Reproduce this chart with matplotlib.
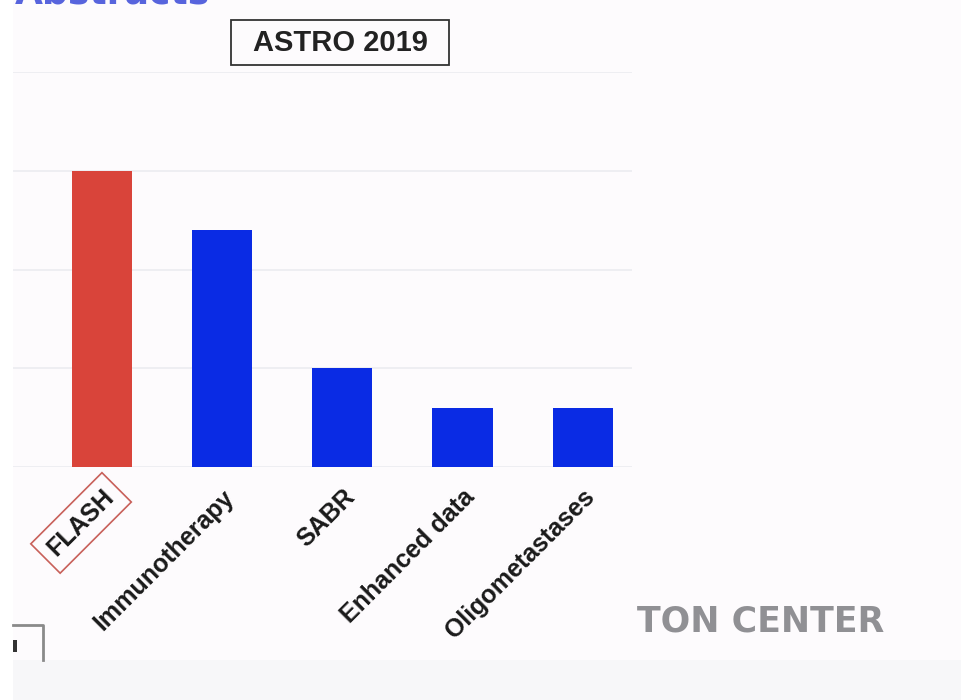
import matplotlib
matplotlib.use("Agg")
import matplotlib.pyplot as plt
from matplotlib.patches import Rectangle
from matplotlib.lines import Line2D

# ---- data ----
categories = ["FLASH", "Immunotherapy", "SABR", "Enhanced data", "Oligometastases"]
values = [15, 12, 5, 3, 3]
bar_colors = ["#d9443a", "#0a2be4", "#0a2be4", "#0a2be4", "#0a2be4"]
y_ticks = [0, 5, 10, 15, 20]
title_text = "ASTRO 2019"
footer_text = "TON CENTER"

W, H = 961, 700
fig = plt.figure(figsize=(W / 100, H / 100), dpi=100)
fig.patch.set_facecolor("#fdfbfd")

def fx(px):
    return px / W

def fy(py):
    return 1 - py / H

# background bands
fig.add_artist(Rectangle((0, 0), fx(13), 1, transform=fig.transFigure,
                         facecolor="white", edgecolor="none", zorder=0))
fig.add_artist(Rectangle((fx(13), 0), 1, fy(660), transform=fig.transFigure,
                         facecolor="#f7f7f9", edgecolor="none", zorder=0))

# axes
ax = fig.add_axes([fx(13), fy(467), fx(632) - fx(13), fy(72) - fy(467)])
ax.set_facecolor("none")
x = list(range(len(categories)))
ax.bar(x, values, width=0.5, color=bar_colors, zorder=3)
ax.set_ylim(0, 20)
ax.set_xlim(-0.74, 4.41)
ax.set_yticks(y_ticks)
ax.set_yticklabels([])
ax.tick_params(axis="y", length=0)
ax.grid(axis="y", color="#ececf0", linewidth=1.2, zorder=0)
for s in ax.spines.values():
    s.set_visible(False)

ax.set_xticks(x)
ax.set_xticklabels(categories, rotation=45, ha="right", rotation_mode="anchor",
                   fontsize=18, fontweight="bold", family="Liberation Sans",
                   color="#1a1a1a")
ax.tick_params(axis="x", length=0, pad=13)
flash_lbl = ax.get_xticklabels()[0]
flash_lbl.set_bbox(dict(boxstyle="square,pad=0.35", facecolor="none",
                        edgecolor="#c8605a", linewidth=1.2))

# title box
fig.text(fx(340), fy(43), title_text, ha="center", va="center",
         fontsize=21, fontweight="bold", family="Liberation Sans", color="#222222")
fig.add_artist(Rectangle((fx(231), fy(65)), fx(449) - fx(231), fy(20) - fy(65),
                         transform=fig.transFigure, facecolor="none",
                         edgecolor="#333333", linewidth=1.3))

# clipped blue heading at very top (only its lowest edge is visible)
fig.text(fx(15), fy(3), "Abstracts", ha="left", va="baseline",
         fontsize=26, fontweight="bold", family="DejaVu Sans", color="#3a4ad8",
         alpha=0.85)

# footer text
fig.text(fx(637), fy(622), footer_text, ha="left", va="center",
         fontsize=25, fontweight="bold", family="DejaVu Sans", color="#909094")

# bottom-left bracket fragment
fig.add_artist(Line2D([fx(13), fx(43), fx(43)], [fy(625), fy(625), fy(660)],
                      transform=fig.transFigure, color="#8a8a8a", linewidth=2))
fig.add_artist(Rectangle((fx(13), fy(652)), fx(4), fy(640) - fy(652),
                         transform=fig.transFigure, facecolor="#333333",
                         edgecolor="none"))

fig.savefig("out.png", dpi=100, facecolor=fig.get_facecolor())
